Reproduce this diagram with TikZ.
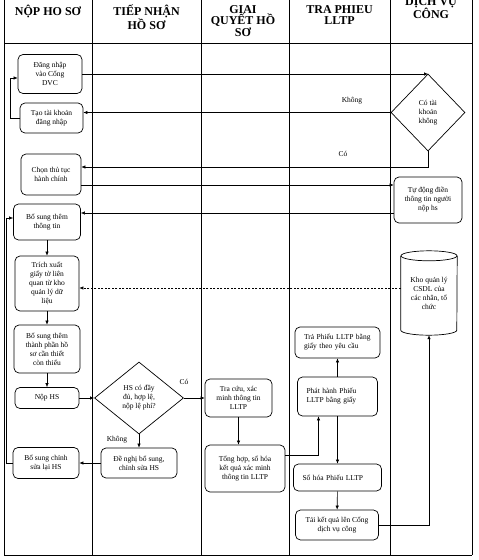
\documentclass[tikz,border=0pt]{standalone}
\usepackage{fontspec}
\setmainfont{Liberation Serif}
\usetikzlibrary{shapes.geometric,arrows.meta}

\begin{document}
\begin{tikzpicture}[x=1pt,y=-1pt,
    lane/.style={line width=0.9pt},
    box/.style={draw, rounded corners=5pt, line width=0.7pt, align=center, inner sep=1pt,
      font=\fontsize{7.5}{9}\selectfont},
    lbox/.style={box, align=left, inner xsep=9pt},
    decision/.style={draw, diamond, line width=0.7pt, align=center, inner sep=0pt,
      font=\fontsize{7.5}{9}\selectfont},
    head/.style={anchor=north, align=center, inner sep=0pt,
      font=\fontsize{12}{11.5}\selectfont\bfseries},
    lbl/.style={font=\fontsize{7.5}{9}\selectfont},
    arr/.style={line width=0.6pt, -{Latex[length=4pt,width=3.5pt]}}]
    \useasboundingbox (0,0) rectangle (479,560);

    % Swimlanes
    \foreach \x in {4,92,201,289,390,472}
        \draw[lane] (\x,0) -- (\x,555);
    \draw[lane] (4,43) -- (472,43);
    \draw[lane] (4,555) -- (472,555);

    \node[head] (hnop) at (48,5) {NỘP HO SƠ};
    \node[head] (htiep) at (146.5,5) {TIẾP NHẬN\\HỒ SƠ};
    \node[head] (hgiai) at (243,5) {GIAI\\QUYẾT HỒ\\SƠ};
    \node[head] (htra) at (339.5,5) {TRA PHIEU\\LLTP};
    \node[head] (hdv) at (431,-3) {DỊCH VỤ\\CÔNG};

    % Nop ho so
    \node[box, minimum width=64pt, minimum height=39pt] (dangnhap) at (50,74) {Đăng nhập\\vào Cổng\\DVC};
    \node[box, minimum width=63pt, minimum height=30pt] (taotk) at (51.5,118) {Tạo tài khoản\\đăng nhập};
    \node[box, minimum width=60pt, minimum height=41pt] (chontt) at (51,174.5) {Chọn thủ tục\\hành chính};
    \node[box, minimum width=67pt, minimum height=36pt] (bosung) at (47,222) {Bổ sung thêm\\thông tin};
    \node[box, minimum width=64pt, minimum height=55pt] (trichxuat) at (47,283.5) {Trích xuất\\giấy tờ liên\\quan từ kho\\quản lý dữ\\liệu};
    \node[box, minimum width=66pt, minimum height=48pt] (bosungtp) at (47,349) {Bổ sung thêm\\thành phần hồ\\sơ cần thiết\\còn thiếu};
    \node[box, minimum width=64pt, minimum height=21pt] (nophs) at (47,398) {Nộp HS};
    \node[box, minimum width=66pt, minimum height=31pt] (bosungcs) at (46,463) {Bổ sung chỉnh\\sửa lại HS};

    % Tiep nhan ho so
    \node[decision, minimum width=89pt, minimum height=72pt] (kiemtra) at (139,398) {HS có đầy\\đủ, hợp lệ,\\nộp lệ phí?};
    \node[box, minimum width=76pt, minimum height=30pt] (denghi) at (139,463) {Đề nghị bổ sung,\\chỉnh sửa HS};

    % Giai quyet ho so
    \node[box, minimum width=67pt, minimum height=38pt] (tracuu) at (238.5,398) {Tra cứu, xác\\minh thông tin\\LLTP};
    \node[box, minimum width=80pt, minimum height=47pt] (tonghop) at (245,468.5) {Tổng hợp, số hóa\\kết quả xác minh\\thông tin LLTP};

    % Tra phieu LLTP
    \node[lbox, minimum height=31pt, text width=67pt] (traphieu) at (337.5,342.5) {Trả Phiếu LLTP bằng\\giấy theo yêu cầu};
    \node[lbox, minimum height=39pt, text width=62pt] (phathanh) at (337.5,396.5) {Phát hành Phiếu\\LLTP bằng giấy};
    \node[lbox, minimum height=27pt, text width=70pt] (sohoa) at (337.5,477.5) {Số hóa Phiếu LLTP};
    \node[box, minimum width=83pt, minimum height=30pt] (taikq) at (337,525) {Tải kết quả lên Cổng\\dịch vụ công};

    % Dich vu cong
    \node[decision, minimum width=74pt, minimum height=77pt] (cotk) at (428,112.5) {Có tài\\khoản\\không};
    \node[box, minimum width=68pt, minimum height=46pt] (tudong) at (428,200) {Tự động điền\\thông tin người\\nộp hs};
    \node[align=center, inner sep=0pt, minimum width=56pt, minimum height=70pt,
      font=\fontsize{7.5}{9}\selectfont] (kho) at (429,293) {Kho quản lý\\CSDL của\\các nhân, tổ\\chức};
    \draw[line width=0.7pt] ([yshift=2pt]kho.north west) -- ([yshift=-2pt]kho.south west)
        arc[start angle=180, end angle=360, x radius=28pt, y radius=5pt]
        -- ([yshift=2pt]kho.north east);
    \draw[line width=0.7pt] ([yshift=2pt]kho.north) ellipse[x radius=28pt, y radius=5pt];

    % Connectors
    \draw[arr] (dangnhap.east) -- (dangnhap.east -| cotk.north);
    \draw[arr] (cotk.west) -- (cotk.west -| taotk.east);
    \node[lbl] (lkhong) at (352,101) {Không};
    \draw[arr] (taotk.west) -- ++(-9,0) |- ([yshift=-4pt]dangnhap.west);
    \draw[arr] (cotk.south) |- ([yshift=7.5pt]chontt.east);
    \node[lbl] (lco) at (343,154) {Có};
    \draw[arr] ([yshift=-10.5pt]chontt.east) -- ([yshift=-10.5pt]chontt.east -| tudong.west);
    \draw[arr] ([yshift=-13pt]tudong.west) -- ([yshift=-13pt]tudong.west -| bosung.east);
    \draw[arr] (bosung) -- (trichxuat);
    \draw[arr, dash pattern=on 2pt off 1.5pt] ([yshift=5pt]kho.west) -- ([yshift=5pt]kho.west -| trichxuat.east);
    \draw[arr] (trichxuat) -- (bosungtp);
    \draw[arr] (bosungtp) -- (nophs);
    \draw[arr] (nophs) -- (kiemtra);
    \draw[arr] (kiemtra) -- (tracuu);
    \node[lbl] (lco2) at (184,382) {Có};
    \draw[arr] (kiemtra) -- (denghi);
    \node[lbl] (lkhong2) at (117,440) {Không};
    \draw[arr] (denghi) -- (bosungcs);
    \draw[arr] (bosungcs.west) -- ++(-6,0) |- ([yshift=4pt]bosung.west);
    \draw[arr] (tracuu.south) -- (tracuu.south |- tonghop.north);
    \draw[arr] ([yshift=13pt]tonghop.east) -| ([xshift=-19pt]phathanh.south);
    \draw[arr] (phathanh) -- (traphieu);
    \draw[arr] (phathanh) -- (sohoa);
    \draw[arr] (sohoa) -- (taikq);
    \draw[arr] (taikq.east) -| ([yshift=-7pt]kho.south);
\end{tikzpicture}
\end{document}
